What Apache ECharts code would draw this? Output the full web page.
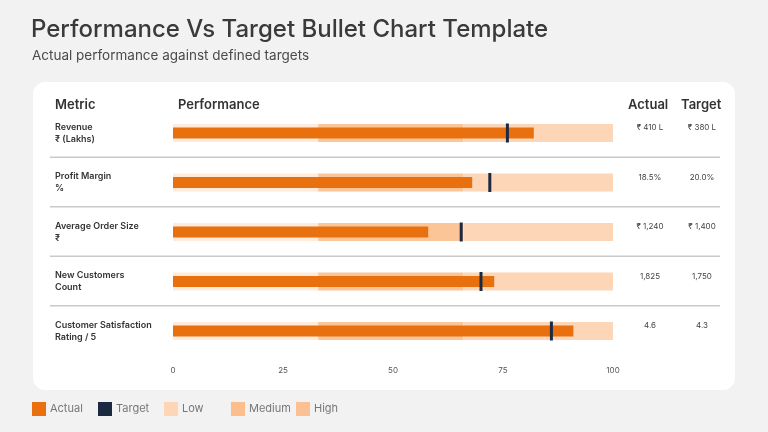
<!DOCTYPE html>
<html>
<head>
<meta charset="utf-8">
<script src="https://cdn.jsdelivr.net/npm/echarts@6/dist/echarts.min.js"></script>
<style>
html,body{margin:0;padding:0;background:#f2f2f2;}
#chart{width:768px;height:432px;}
</style>
</head>
<body>
<div id="chart"></div>
<script>
// ---- data ----
const metricNames = ['Revenue', 'Profit Margin', 'Average Order Size', 'New Customers', 'Customer Satisfaction'];
const metricUnits = ['₹ (Lakhs)', '%', '₹', 'Count', 'Rating / 5'];
const actualScore = [82, 68, 58, 73, 91];
const targetScore = [76, 72, 65.5, 70, 86];
const actualLabels = ['₹ 410 L', '18.5%', '₹ 1,240', '1,825', '4.6'];
const targetLabels = ['₹ 380 L', '20.0%', '₹ 1,400', '1,750', '4.3'];
const rangeNames = ['Low', 'Medium', 'High'];
const rangeStart = [0, 33, 66];
const rangeEnd = [33, 66, 100];
const axisTicks = [0, 25, 50, 75, 100];
const legendNames = ['Actual', 'Target', 'Low', 'Medium', 'High'];

const FONT = 'Inter, "Noto Sans", sans-serif';
const bandFill = ['#FEEBDB', '#FBC598', '#FCD6B7'];
const legendFill = ['#FDD6B7', '#FBBE8C', '#FBC093'];
const ACTUAL = '#E8700E';
const TARGET = '#1B2A41';
const legendLeft = [32, 98, 164, 231, 296];

const chart = echarts.init(document.getElementById('chart'));

function rangeSeries(k) {
  return {
    name: rangeNames[k],
    type: 'custom',
    itemStyle: { color: legendFill[k] },
    data: metricNames.map((m, i) => [rangeStart[k], rangeEnd[k], i]),
    encode: { x: [0, 1], y: 2 },
    renderItem: function (params, api) {
      const i = api.value(2);
      const p0 = api.coord([api.value(0), i]);
      const p1 = api.coord([api.value(1), i]);
      const h = 18;
      return {
        type: 'rect',
        shape: { x: p0[0], y: p0[1] - h / 2, width: p1[0] - p0[0], height: h },
        style: { fill: bandFill[k] }
      };
    },
    z: 1
  };
}

const option = {
  backgroundColor: '#f2f2f2',
  animation: false,
  textStyle: { fontFamily: FONT },
  graphic: [
    { type: 'text', left: 31, top: 18, style: { text: 'Performance Vs Target Bullet Chart Template', font: '500 24px ' + FONT, fill: '#3a3a3a' } },
    { type: 'text', left: 32, top: 49, style: { text: 'Actual performance against defined targets', font: '400 13.5px ' + FONT, fill: '#4a4a4a' } },
    { type: 'rect', z: -10, shape: { x: 33, y: 82, width: 702, height: 308, r: 12 }, style: { fill: '#ffffff' } },
    { type: 'text', left: 55, top: 99, style: { text: 'Metric', font: '600 13px ' + FONT, fill: '#333' } },
    { type: 'text', left: 178, top: 99, style: { text: 'Performance', font: '600 13px ' + FONT, fill: '#333' } },
    { type: 'text', left: 628, top: 99, style: { text: 'Actual', font: '600 13px ' + FONT, fill: '#333' } },
    { type: 'text', left: 681, top: 99, style: { text: 'Target', font: '600 13px ' + FONT, fill: '#333' } }
  ],
  legend: legendNames.map((n, k) => ({
    left: legendLeft[k],
    top: 402,
    padding: 0,
    itemWidth: 14,
    itemHeight: 14,
    itemGap: 0,
    icon: 'rect',
    data: [n],
    textStyle: { fontFamily: FONT, fontSize: 11, color: '#777', padding: [0, 0, 0, -1] },
    selectedMode: false
  })),
  grid: { left: 173, right: 155, top: 108.25, height: 247.5, containLabel: false },
  xAxis: {
    type: 'value', min: 0, max: 100, interval: 25,
    axisLine: { show: false }, axisTick: { show: false }, splitLine: { show: false },
    axisLabel: { fontSize: 8, color: '#555', margin: 11, fontFamily: FONT,
      formatter: v => axisTicks.indexOf(v) >= 0 ? String(v) : '' }
  },
  yAxis: {
    type: 'category', inverse: true, data: metricNames,
    axisLine: { show: false }, axisTick: { show: false },
    axisLabel: {
      align: 'left', margin: 118, fontFamily: FONT,
      formatter: (v, i) => '{n|' + v + '}\n{n|' + metricUnits[i] + '}',
      rich: { n: { fontSize: 9, fontWeight: 600, color: '#333', lineHeight: 12, fontFamily: FONT } }
    }
  },
  series: [
    rangeSeries(0), rangeSeries(1), rangeSeries(2),
    {
      name: 'Actual', type: 'custom', itemStyle: { color: ACTUAL }, z: 3,
      data: actualScore.map((v, i) => [v, i]),
      encode: { x: 0, y: 1 },
      renderItem: function (params, api) {
        const i = api.value(1);
        const p0 = api.coord([0, i]);
        const p1 = api.coord([api.value(0), i]);
        const h = 11;
        return { type: 'rect', shape: { x: p0[0], y: p0[1] - h / 2, width: p1[0] - p0[0], height: h }, style: { fill: ACTUAL } };
      }
    },
    {
      name: 'Target', type: 'custom', itemStyle: { color: TARGET }, z: 4,
      data: targetScore.map((v, i) => [v, i]),
      encode: { x: 0, y: 1 },
      renderItem: function (params, api) {
        const i = api.value(1);
        const p = api.coord([api.value(0), i]);
        const h = 19, w = 3;
        return { type: 'rect', shape: { x: p[0] - w / 2, y: p[1] - h / 2, width: w, height: h }, style: { fill: TARGET } };
      }
    },
    {
      name: 'values', type: 'custom', z: 5, silent: true,
      data: metricNames.map((m, i) => [100, i]),
      encode: { x: 0, y: 1 },
      clip: false,
      renderItem: function (params, api) {
        const i = api.value(1);
        const p = api.coord([100, i]);
        const size = api.size([0, 1]);
        const children = [
          { type: 'text', style: { x: p[0] + 37, y: p[1] - 5, text: actualLabels[i], textAlign: 'center', textVerticalAlign: 'middle', font: '400 8px ' + FONT, fill: '#444' } },
          { type: 'text', style: { x: p[0] + 89, y: p[1] - 5, text: targetLabels[i], textAlign: 'center', textVerticalAlign: 'middle', font: '400 8px ' + FONT, fill: '#444' } }
        ];
        if (i < metricNames.length - 1) {
          const y = p[1] + size[1] / 2 - 0.5;
          children.push({ type: 'line', shape: { x1: 50, y1: y, x2: 720, y2: y }, style: { stroke: '#cacacd', lineWidth: 1.3 } });
        }
        return { type: 'group', children: children };
      }
    }
  ]
};
chart.setOption(option);
</script>
</body>
</html>
